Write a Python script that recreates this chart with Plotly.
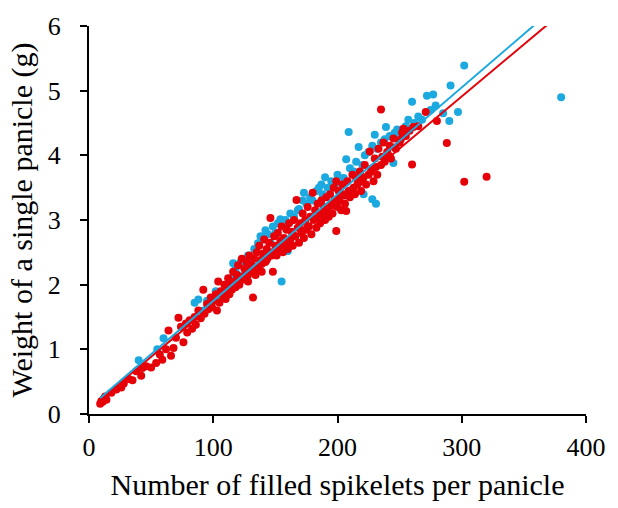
import plotly.graph_objects as go

# Red series (filled spikelets per panicle, panicle weight g)
red_x = [9,10,11,12,13,14,18,22,26,28,32,35,38,42,43,46,50,54,57,59,62,64,66,68,70,72,74,76,78,79,
         81,83,85,86,88,90,92,93,95,96,98,99,100,102,103,104,105,106,108,109,110,111,112,113,114,115,116,117,118,119,
         120,121,122,123,124,125,126,127,128,129,130,131,132,133,134,135,136,137,138,139,140,141,142,143,144,145,146,147,148,149,
         150,151,152,153,154,155,156,157,158,159,160,161,162,163,164,165,166,167,168,169,170,171,172,173,174,175,176,177,178,179,
         180,181,182,183,184,185,186,187,188,189,190,191,192,193,194,195,196,197,198,199,199,200,201,202,203,204,205,206,207,208,
         209,210,212,213,214,215,216,218,219,220,222,223,225,226,228,229,230,232,233,235,235,237,238,240,242,243,245,247,250,252,
         253,255,258,260,261,265,271,280,288,302,320,
         107,112,118,124,128,134,139,143,147,152,156,161,166,171,176,181,186,191,196,201,206,211,217,221,227,231,236,241,246,251]
red_y = [0.16,0.20,0.19,0.24,0.27,0.22,0.33,0.38,0.41,0.47,0.54,0.52,0.66,0.59,0.71,0.74,0.72,0.79,0.92,0.84,1.00,1.29,0.90,1.02,1.18,1.49,1.35,1.11,1.40,1.26,
         1.45,1.32,1.50,1.38,1.60,1.48,1.92,1.55,1.70,1.62,1.80,1.65,1.75,1.85,1.60,2.05,1.72,1.90,1.82,2.00,1.78,1.95,2.10,1.85,2.02,1.92,2.20,2.05,1.96,2.15,
         2.30,2.00,2.12,2.40,2.08,2.25,2.18,2.35,2.05,2.45,2.22,2.30,1.80,2.40,2.15,2.50,2.28,2.60,2.38,2.20,2.48,2.70,2.35,2.55,2.42,2.65,3.03,2.50,2.20,2.75,
         2.60,2.45,2.80,2.55,2.68,2.90,2.50,2.72,2.62,2.85,2.55,2.95,2.70,2.82,2.60,3.00,2.75,3.31,2.88,2.65,2.95,2.80,3.10,2.72,3.00,2.85,3.20,2.90,3.05,2.78,
         3.42,3.00,3.15,2.88,3.25,3.05,2.95,3.30,3.10,3.20,3.00,3.35,3.15,3.05,3.40,3.25,3.10,3.50,3.30,3.60,2.83,3.20,3.45,3.35,3.15,3.55,3.40,3.25,3.14,3.60,
         3.45,3.35,3.70,3.50,3.40,3.65,3.55,3.75,3.45,3.60,3.85,3.55,3.70,4.06,3.80,3.60,3.95,3.70,4.10,4.71,3.85,4.20,3.90,4.05,4.15,3.95,4.26,4.10,4.20,4.35,
         4.41,4.30,4.38,3.86,4.44,4.45,4.67,4.53,4.19,3.59,3.67,
         1.88,1.98,2.02,2.10,2.15,2.22,2.32,2.38,2.45,2.52,2.58,2.68,2.75,2.84,2.90,3.02,3.08,3.18,3.22,3.30,3.38,3.46,3.58,3.66,3.75,3.82,3.98,4.00,4.12,4.25]

# Blue series
blue_x = [40,55,60,75,85,88,92,95,98,102,106,110,114,116,118,120,122,125,128,130,133,136,138,140,142,144,146,148,150,152,
          154,155,158,160,160,162,165,168,169,172,173,175,178,180,183,185,187,188,190,192,195,198,200,202,205,207,209,210,213,215,
          217,220,221,222,225,228,228,230,231,232,235,238,239,242,245,246,248,250,255,257,260,262,265,268,272,275,277,279,285,290,
          291,297,302,380]
blue_y = [0.83,1.00,1.17,1.35,1.72,1.77,1.60,1.75,1.68,1.90,1.80,2.00,2.10,2.33,2.25,2.15,2.35,2.30,2.45,2.40,2.55,2.64,2.75,2.70,2.84,2.78,2.65,2.90,2.80,2.95,
          3.01,2.05,3.00,2.95,2.52,3.10,3.05,3.15,3.17,3.30,3.42,3.25,3.35,3.30,3.45,3.50,3.55,3.40,3.66,3.50,3.60,3.55,3.70,3.40,3.65,3.94,4.36,3.80,3.75,3.90,
          4.13,3.85,3.40,4.00,4.05,3.32,4.15,4.32,3.25,4.10,4.20,4.25,4.44,4.30,3.88,4.35,4.40,4.30,4.45,4.55,4.83,4.50,4.60,4.55,4.92,4.70,4.94,4.77,4.65,4.53,
          5.08,4.67,5.39,4.90]

# Linear trend lines (slope, intercept)
red_fit = (0.0161, 0.08)
blue_fit = (0.0165, 0.10)
fit_x = [9, 400]

RED = "#E60008"
BLUE = "#1BA9E0"

fig = go.Figure()
fig.add_trace(go.Scatter(x=blue_x, y=blue_y, mode="markers",
                         marker=dict(color=BLUE, size=8), showlegend=False))
fig.add_trace(go.Scatter(x=red_x, y=red_y, mode="markers",
                         marker=dict(color=RED, size=8), showlegend=False))
fig.add_trace(go.Scatter(x=fit_x, y=[red_fit[0] * v + red_fit[1] for v in fit_x], mode="lines",
                         line=dict(color=RED, width=2), showlegend=False))
fig.add_trace(go.Scatter(x=fit_x, y=[blue_fit[0] * v + blue_fit[1] for v in fit_x], mode="lines",
                         line=dict(color=BLUE, width=2), showlegend=False))

font_family = "Liberation Serif, Times New Roman, serif"
fig.update_layout(
    width=618, height=508,
    margin=dict(l=89, r=25, t=22, b=92),
    paper_bgcolor="white", plot_bgcolor="white",
    font=dict(family=font_family, size=26, color="black"),
)
fig.update_xaxes(range=[0, 400], tickvals=[0, 100, 200, 300, 400],
                 showline=True, linecolor="black", linewidth=2,
                 ticks="outside", ticklen=7, tickwidth=2, tickcolor="black",
                 showgrid=False, zeroline=False,
                 tickfont=dict(family=font_family, size=26), ticklabelstandoff=2,
                 title=dict(text="Number of filled spikelets per panicle",
                            font=dict(family=font_family, size=30), standoff=13))
fig.update_yaxes(range=[0, 6], tickvals=[0, 1, 2, 3, 4, 5, 6],
                 showline=True, linecolor="black", linewidth=2,
                 ticks="outside", ticklen=7, tickwidth=2, tickcolor="black",
                 showgrid=False, zeroline=False,
                 tickfont=dict(family=font_family, size=26), ticklabelstandoff=14,
                 title=dict(text="Weight of a single panicle (g)",
                            font=dict(family=font_family, size=30), standoff=6))

fig.write_html("out.html")
